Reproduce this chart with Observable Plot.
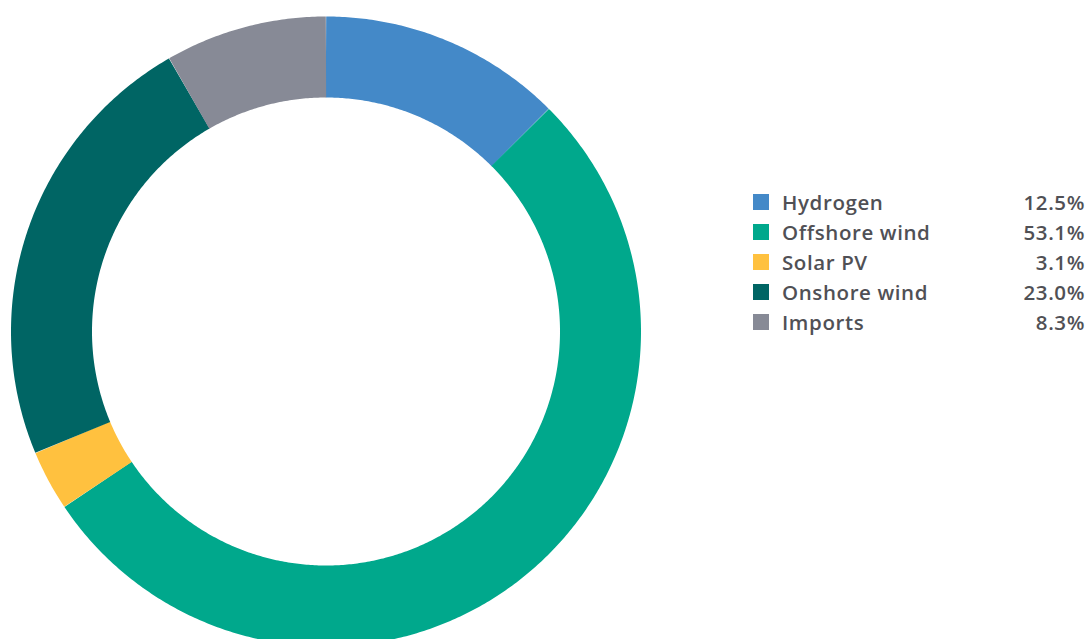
<!DOCTYPE html>
<html>
<head>
<meta charset="utf-8">
<script src="https://cdn.jsdelivr.net/npm/d3@7"></script>
<script src="https://cdn.jsdelivr.net/npm/@observablehq/plot@0.6"></script>
<style>
  html, body { margin: 0; padding: 0; background: #fff; }
  #wrap { position: relative; width: 1087px; height: 639px; overflow: hidden; }
  #chart { position: absolute; left: 0; top: 0; }
  #legend { position: absolute; left: 753px; top: 187px; width: 331px;
    font-family: "Open Sans", Lato, sans-serif; font-weight: 600; font-size: 20.5px;
    letter-spacing: 0.6px; color: #505055; }
  .row { display: flex; align-items: center; height: 30px; }
  .sw { width: 16px; height: 16px; margin-right: 13px; flex: none; }
  .lab { flex: 1; }
  .val { text-align: right; margin-right: -1px; }
</style>
</head>
<body>
<div id="wrap">
  <div id="chart"></div>
  <div id="legend"></div>
</div>
<script>
const categories = ["Hydrogen", "Offshore wind", "Solar PV", "Onshore wind", "Imports"];
const shares = [12.5, 53.1, 3.1, 23.0, 8.3];
const colors = ["#4489c8", "#00a88c", "#ffc13f", "#006564", "#878a96"];

const W = 660, H = 639;
const cx = 325.5, cy = 331, R = 315, r = 234;
const k = R; // px per unit
const mid = (1 + r / R) / 2;

const total = d3.sum(shares);
const pts = [];
let acc = 0;
categories.forEach((name, i) => {
  const a0 = acc / total * 2 * Math.PI;
  acc += shares[i];
  const a1 = acc / total * 2 * Math.PI;
  const n = Math.max(4, Math.ceil((a1 - a0) / (Math.PI / 360)));
  for (let j = 0; j <= n; j++) {
    const t = a0 + (a1 - a0) * j / n;
    pts.push({name, x: mid * Math.sin(t), y: mid * Math.cos(t)});
  }
});

const chart = Plot.plot({
  width: W, height: H,
  margin: 0,
  x: {domain: [-cx / k, (W - cx) / k], axis: null},
  y: {domain: [-(H - cy) / k, cy / k], axis: null},
  color: {domain: categories, range: colors},
  marks: [
    Plot.line(pts, {x: "x", y: "y", z: "name", stroke: "name",
      strokeWidth: R - r, strokeLinecap: "butt", strokeLinejoin: "round"})
  ]
});
document.getElementById("chart").appendChild(chart);

const leg = document.getElementById("legend");
categories.forEach((name, i) => {
  const row = document.createElement("div");
  row.className = "row";
  row.innerHTML = `<span class="sw" style="background:${colors[i]}"></span><span class="lab">${name}</span><span class="val">${shares[i].toFixed(1)}%</span>`;
  leg.appendChild(row);
});
</script>
</body>
</html>
